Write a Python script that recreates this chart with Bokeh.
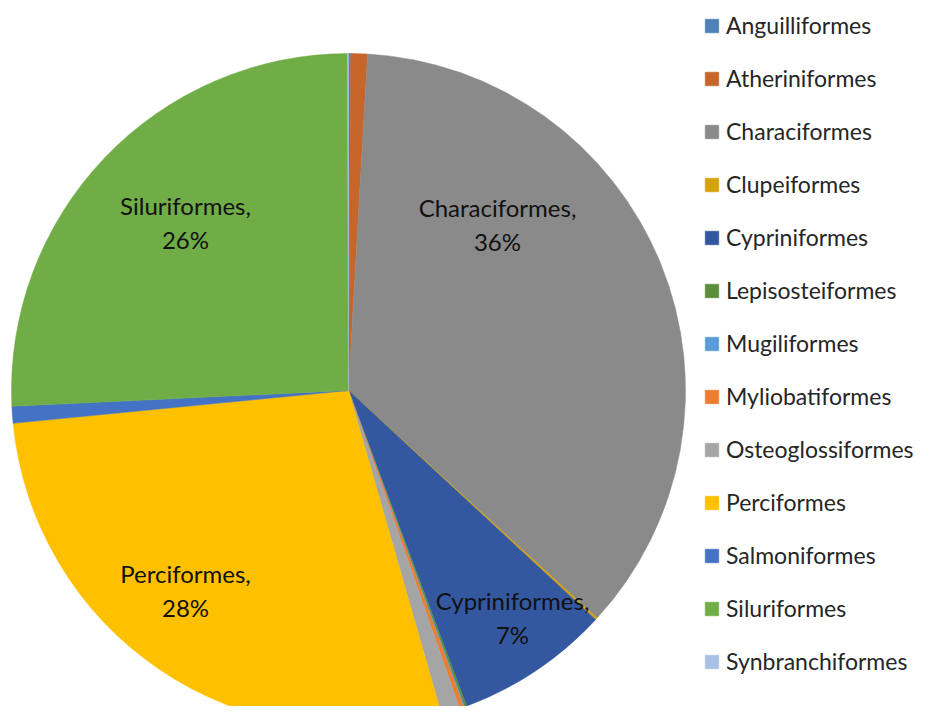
import math
from bokeh.plotting import figure
from bokeh.models import ColumnDataSource, Legend, LegendItem
from bokeh.core.properties import value
from bokeh.embed import file_html
from bokeh.resources import INLINE

# ---- data ----
orders = ["Anguilliformes", "Atheriniformes", "Characiformes", "Clupeiformes",
          "Cypriniformes", "Lepisosteiformes", "Mugiliformes", "Myliobatiformes",
          "Osteoglossiformes", "Perciformes", "Salmoniformes", "Siluriformes",
          "Synbranchiformes"]
shares = [0.1, 0.8, 35.9, 0.1, 7.4, 0.1, 0.05, 0.2, 0.9, 27.9, 0.8, 25.7, 0.05]
colors = ["#4E81B8", "#C7662B", "#8A8A8A", "#D4A20A", "#3358A0", "#5A8E3A",
          "#5B9BD5", "#ED7D31", "#A5A5A5", "#FFC000", "#4472C4", "#70AD47",
          "#A9C1E4"]
labelled = ["Characiformes", "Cypriniformes", "Perciformes", "Siluriformes"]

# ---- layout ----
W, H = 914, 706
CX, CY = 348, H - 390
R = 337
label_offsets = {"Characiformes": (149, 166), "Cypriniformes": (164, -227),
                 "Perciformes": (-163, -200), "Siluriformes": (-163, 168)}

total = sum(shares)
starts, ends = [], []
cum = 0.0
for s in shares:
    a0 = math.pi / 2 - 2 * math.pi * cum / total
    cum += s
    a1 = math.pi / 2 - 2 * math.pi * cum / total
    starts.append(a0)
    ends.append(a1)

src = ColumnDataSource(dict(name=orders, start=starts, end=ends, color=colors))

p = figure(width=W, height=H, x_range=(0, W), y_range=(0, H),
           output_backend="svg", toolbar_location=None, min_border=0,
           x_axis_location=None, y_axis_location=None)
p.grid.visible = False
p.outline_line_color = None

r = p.wedge(x=CX, y=CY, radius=R, start_angle="start", end_angle="end",
            direction="clock", fill_color="color", line_color="color",
            line_width=0.5, source=src)

# data labels
lx, ly, lt = [], [], []
for n, s in zip(orders, shares):
    if n in labelled:
        dx, dy = label_offsets[n]
        lx.append(CX + dx)
        ly.append(CY + dy)
        lt.append(f"{n},\n{round(100 * s / total)}%")
p.text(x=lx, y=ly, text=lt, text_align="center", text_baseline="middle",
       text_font=value("Lato"), text_font_size="24px", text_color="#111111",
       text_line_height=1.2)

items = [LegendItem(label=n, renderers=[r], index=i) for i, n in enumerate(orders)]
legend = Legend(items=items, location=(703, 31), orientation="vertical",
                padding=0, margin=0, spacing=25, label_height=28,
                glyph_width=17, glyph_height=17, label_standoff=6,
                label_text_font="Lato", label_text_font_size="23px",
                label_text_color="#262626", border_line_color=None,
                background_fill_alpha=0)
p.add_layout(legend)

open("out.html", "w").write(file_html(p, INLINE))
